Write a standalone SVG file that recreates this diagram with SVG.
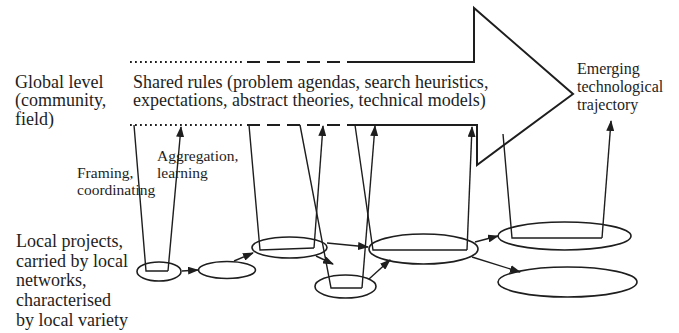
<svg xmlns="http://www.w3.org/2000/svg" width="679" height="333" viewBox="0 0 679 333">
<defs>
<marker id="ah" markerUnits="userSpaceOnUse" markerWidth="11" markerHeight="8" refX="10" refY="4" orient="auto">
<path d="M0,0 L11,4 L0,8 z" fill="#1e1e1e"/>
</marker>
<style>
text{fill:#1e1e1e}
.big{font-size:18px}
.mid{font-size:16px}
.sm{font-size:15.5px}
.ol{fill:none;stroke:#1e1e1e;stroke-width:2}
.dot{fill:none;stroke:#1e1e1e;stroke-width:2;stroke-dasharray:1.8 3.2}
.dash{fill:none;stroke:#1e1e1e;stroke-width:2;stroke-dasharray:13 7}
.node{fill:none;stroke:#1e1e1e;stroke-width:1.6}
.c{fill:none;stroke:#1e1e1e;stroke-width:1.4;marker-end:url(#ah)}
.u{fill:none;stroke:#1e1e1e;stroke-width:1.4}
</style>
</defs>
<rect width="679" height="333" fill="#fff"/>
<g font-family="'Liberation Serif', 'Times New Roman', Times, serif">
<g id="global-arrow">
<path class="ol" d="M360,62 L474,62 L474,8 L573,94 L477,165 L477,125 L357,125"/>
<path class="dot" d="M130,62 L245,62"/>
<path class="dash" d="M247,62 L362,62"/>
<path class="dot" d="M130,125 L245,125"/>
<path class="dash" d="M247,125 L358,125"/>
<text class="big" x="133" y="87.5">Shared rules (problem agendas, search heuristics,</text>
<text class="big" x="133" y="106">expectations, abstract theories, technical models)</text>
</g>

<g id="label-global">
<text class="big" x="15" y="87.5">Global level</text>
<text class="big" x="15" y="106">(community,</text>
<text class="big" x="15" y="124.5">field)</text>
</g>

<g id="label-trajectory">
<text class="mid" x="577" y="74">Emerging</text>
<text class="mid" x="577" y="92">technological</text>
<text class="mid" x="577" y="110">trajectory</text>
</g>

<g id="label-local">
<text class="big" x="16" y="247">Local projects,</text>
<text class="big" x="16" y="267">carried by local</text>
<text class="big" x="16" y="286">networks,</text>
<text class="big" x="16" y="306">characterised</text>
<text class="big" x="16" y="326">by local variety</text>
</g>

<g id="label-framing">
<text class="sm" x="77" y="178">Framing,</text>
<text class="sm" x="77" y="195">coordinating</text>
</g>
<g id="label-aggregation">
<text class="sm" x="157" y="161">Aggregation,</text>
<text class="sm" x="157" y="178">learning</text>
</g>
</g>

<g id="p1"><ellipse class="node" cx="159" cy="271.5" rx="22" ry="9.5"/></g>
<g id="p2"><ellipse class="node" cx="227" cy="270" rx="28.5" ry="8.5"/></g>
<g id="p3"><ellipse class="node" cx="289.5" cy="247.5" rx="37.5" ry="10.5"/></g>
<g id="p4"><ellipse class="node" cx="345.5" cy="286.5" rx="30.5" ry="11.5"/></g>
<g id="p5"><ellipse class="node" cx="423.5" cy="249" rx="54.5" ry="15"/></g>
<g id="p6"><ellipse class="node" cx="564.5" cy="236" rx="66.5" ry="14"/></g>
<g id="p7"><ellipse class="node" cx="567.5" cy="282" rx="69.5" ry="15"/></g>

<g id="connectors">
<path class="u" d="M134,125 L146,271 L168,271"/>
<path class="c" d="M168,271 L181,127"/>
<path class="u" d="M249,125 L260,250 L314,248"/>
<path class="c" d="M314,248 L323,126"/>
<path class="u" d="M300,125 L331,288 L362,288"/>
<path class="c" d="M362,288 L375,126"/>
<path class="u" d="M355,125 L373,250 L467,250"/>
<path class="c" d="M467,250 L472,127"/>
<path class="u" d="M503,134 L512,238 L602,238"/>
<path class="c" d="M602,238 L611,121"/>

<path class="c" d="M182,271 L198,270"/>
<path class="c" d="M234,261 L253,253"/>
<path class="c" d="M327,243 L368,247"/>
<path class="c" d="M316,256 L333,264"/>
<path class="c" d="M369,279 L390,260"/>
<path class="c" d="M475,242 L498,236"/>
<path class="c" d="M472,257 L520,272"/>
</g>
</svg>
